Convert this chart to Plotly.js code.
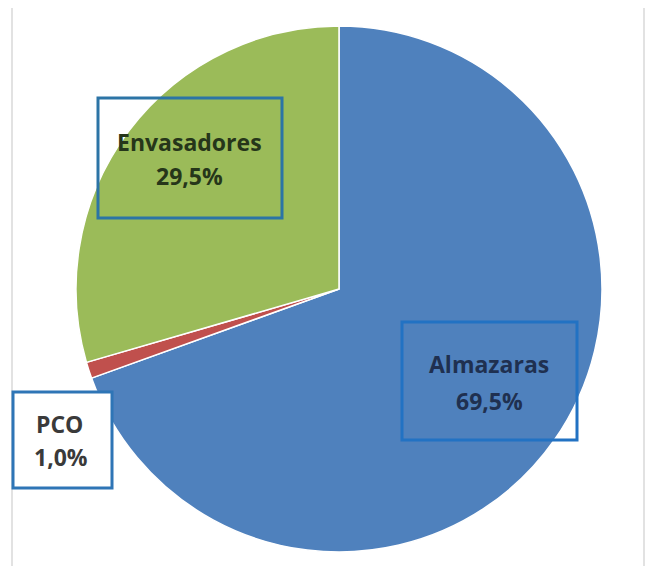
<!DOCTYPE html>
<html>
<head>
<meta charset="utf-8">
<script src="https://cdn.plot.ly/plotly-3.0.1.min.js"></script>
<style>html,body{margin:0;padding:0;background:#fff;}#chart{width:648px;height:566px;}</style>
</head>
<body>
<div id="chart"></div>
<script>
// Data
var categories = ["Almazaras", "PCO", "Envasadores"];
var shares = [69.5, 1.0, 29.5];
var shareLabels = ["69,5%", "1,0%", "29,5%"];
var sliceColors = ["#4F81BD", "#C0504D", "#9BBB59"];

var W = 648, H = 566;
function px(x) { return x / W; }
function py(y) { return 1 - y / H; }

var trace = {
  type: "pie",
  labels: categories,
  values: shares,
  sort: false,
  direction: "clockwise",
  rotation: 0,
  textinfo: "none",
  hoverinfo: "label+percent",
  marker: { colors: sliceColors, line: { color: "#ffffff", width: 1.5 } },
  domain: { x: [px(76), px(602)], y: [py(552), py(26)] },
  showlegend: false
};

// label boxes (layout only) : [left, top, right, bottom] in pixels
var boxes = [
  { box: [402, 322, 577, 440], fill: "rgba(0,0,0,0)", border: "#2272C3", line1: [489, 364], line2: [489, 401], color: "#1F3050" },
  { box: [13, 392, 112, 488], fill: "#ffffff", border: "#2E75B6", line1: [59, 424], line2: [61, 457], color: "#3A3A3A" },
  { box: [98, 98, 282, 218], fill: "rgba(0,0,0,0)", border: "#2C74A6", line1: [189, 142], line2: [189, 176], color: "#26361A" }
];

var shapes = [
  { type: "line", xref: "paper", yref: "paper", x0: px(12), x1: px(12), y0: py(8), y1: py(566), line: { color: "#D9D9D9", width: 1.5 }, layer: "below" },
  { type: "line", xref: "paper", yref: "paper", x0: px(644), x1: px(644), y0: py(8), y1: py(566), line: { color: "#D9D9D9", width: 1.5 }, layer: "below" }
];
var annotations = [];
boxes.forEach(function (b, i) {
  shapes.push({
    type: "rect", xref: "paper", yref: "paper", layer: "above",
    x0: px(b.box[0]), x1: px(b.box[2]), y0: py(b.box[3]), y1: py(b.box[1]),
    fillcolor: b.fill, line: { color: b.border, width: 3 }
  });
  annotations.push({
    xref: "paper", yref: "paper", x: px(b.line1[0]), y: py(b.line1[1]),
    xanchor: "center", yanchor: "middle", showarrow: false,
    text: "<b>" + categories[i] + "</b>",
    font: { family: "Open Sans, sans-serif", size: 23, color: b.color }
  });
  annotations.push({
    xref: "paper", yref: "paper", x: px(b.line2[0]), y: py(b.line2[1]),
    xanchor: "center", yanchor: "middle", showarrow: false,
    text: "<b>" + shareLabels[i] + "</b>",
    font: { family: "Open Sans, sans-serif", size: 23, color: b.color }
  });
});

var layout = {
  width: W, height: H,
  margin: { l: 0, r: 0, t: 0, b: 0 },
  paper_bgcolor: "#ffffff",
  plot_bgcolor: "#ffffff",
  showlegend: false,
  shapes: shapes,
  annotations: annotations
};

Plotly.newPlot("chart", [trace], layout, { displayModeBar: false, staticPlot: true });
</script>
</body>
</html>
